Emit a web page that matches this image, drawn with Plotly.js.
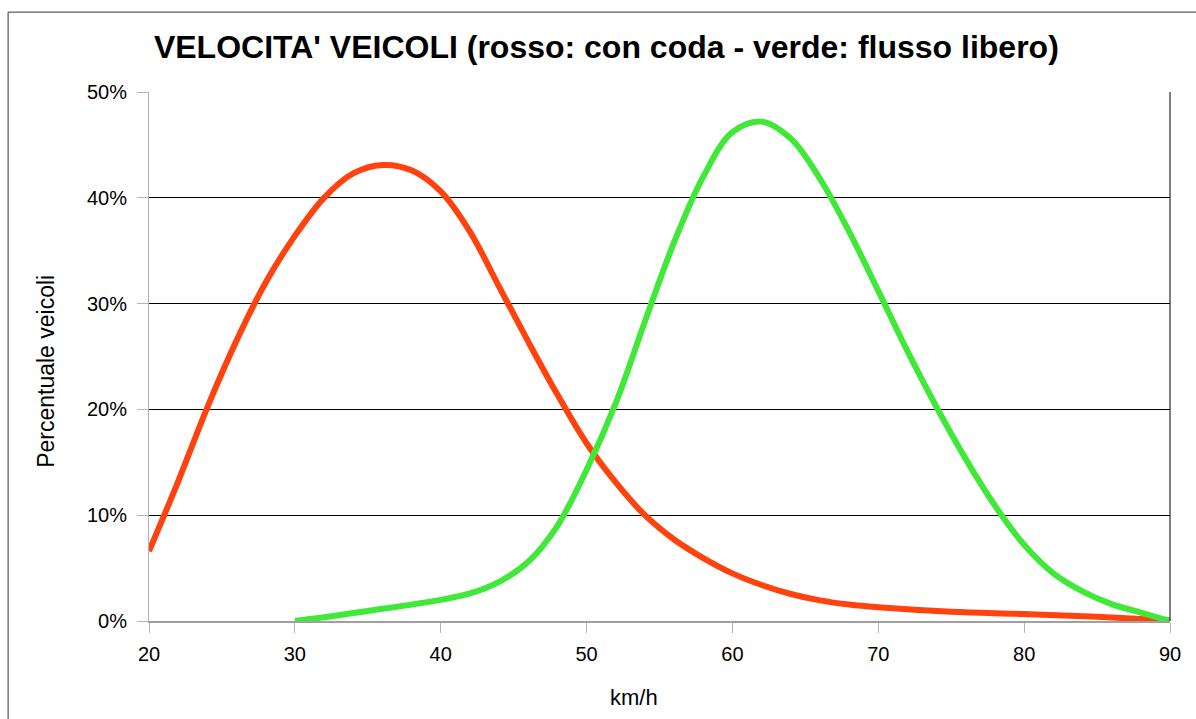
<!DOCTYPE html>
<html>
<head>
<meta charset="utf-8">
<script src="https://cdn.plot.ly/plotly-3.0.1.min.js"></script>
<style>
html,body{margin:0;padding:0;background:#fff;}
#chart{width:1196px;height:719px;}
</style>
</head>
<body>
<div id="chart"></div>
<script>
// Red series: with queue (con coda)
const redSpeed = [20,22,24,26,28,30,32,34,36,38,40,42,44,46,48,50,52,54,56,58,60,62,64,66,68,70,75,80,85,90];
const redPct   = [6.6,13.2,20.2,26.5,32.0,36.4,40.0,42.3,43.1,42.6,40.6,36.8,31.6,26.4,21.4,16.8,13.1,10.0,7.7,5.95,4.5,3.4,2.55,1.95,1.55,1.3,0.88,0.66,0.4,0.05];
// Green series: free flow (flusso libero)
const greenSpeed = [30,32,34,36,38,40,42,44,46,48,50,52,54,56,58,60,62,64,66,68,70,72,74,76,78,80,82,84,86,88,90];
const greenPct   = [0,0.35,0.75,1.15,1.55,2.0,2.6,3.7,5.6,9.0,14.3,20.6,28.3,35.8,42.0,46.2,47.2,45.6,41.8,36.8,31.2,25.5,20.2,15.3,10.9,7.2,4.5,2.8,1.6,0.8,0.0];

const yTickVals = [0,10,20,30,40,50];
const yTickText = ['0%','10%','20%','30%','40%','50%'];
const xTickVals = [20,30,40,50,60,70,80,90];

const titleText = "VELOCITA' VEICOLI (rosso: con coda - verde: flusso libero)";
const xTitle = 'km/h';
const yTitle = 'Percentuale veicoli';

const font = 'Liberation Sans, Arial, sans-serif';

const traces = [
  {x: redSpeed, y: redPct, type: 'scatter', mode: 'lines',
   line: {color: '#ff420e', width: 6, shape: 'spline', smoothing: 1}, hoverinfo: 'skip'},
  {x: greenSpeed, y: greenPct, type: 'scatter', mode: 'lines',
   line: {color: '#40e83a', width: 6, shape: 'spline', smoothing: 1}, hoverinfo: 'skip'}
];

const layout = {
  width: 1196, height: 719,
  margin: {l: 149, r: 26, t: 92, b: 98},
  paper_bgcolor: '#ffffff', plot_bgcolor: '#ffffff',
  showlegend: false,
  font: {family: font, color: '#000', size: 20},
  title: {text: titleText, font: {family: font, size: 32, color: '#000', weight: 'bold'},
          x: 0.507, xref: 'container', xanchor: 'center', y: 0.935, yref: 'container', yanchor: 'middle'},
  xaxis: {
    range: [20, 90], tickvals: xTickVals, ticktext: xTickVals.map(String),
    showgrid: false, zeroline: false,
    showline: true, linecolor: '#a0a0a0', linewidth: 2,
    ticks: 'outside', ticklen: 10, tickcolor: '#b3b3b3', tickwidth: 1,
    ticklabelstandoff: 4,
    tickfont: {size: 20, color: '#000'}
  },
  yaxis: {
    range: [0, 50], tickvals: yTickVals, ticktext: yTickText,
    showgrid: true, gridcolor: '#000000', gridwidth: 1, zeroline: false,
    showline: true, linecolor: '#b3b3b3', linewidth: 1,
    ticks: 'outside', ticklen: 11, tickcolor: '#b3b3b3', tickwidth: 1,
    ticklabelstandoff: 6,
    tickfont: {size: 20, color: '#000'}
  },
  annotations: [
    {text: xTitle, xref: 'paper', yref: 'paper', x: 0.475, y: -0.1437,
     xanchor: 'center', yanchor: 'middle', showarrow: false, font: {size: 22, color: '#000'}},
    {text: yTitle, xref: 'paper', yref: 'paper', x: -0.101, y: 0.4726, textangle: -90,
     xanchor: 'center', yanchor: 'middle', showarrow: false, font: {size: 23, color: '#000'}}
  ],
  shapes: [
    {type: 'line', xref: 'paper', yref: 'paper', x0: 1, x1: 1, y0: 0, y1: 1,
     line: {color: '#000', width: 1}, layer: 'above'},
    {type: 'line', xref: 'paper', yref: 'paper', x0: -0.138, x1: 1.1, y0: 1.151, y1: 1.151,
     line: {color: '#333', width: 1}},
    {type: 'line', xref: 'paper', yref: 'paper', x0: -0.138, x1: -0.138, y0: 1.151, y1: -0.3,
     line: {color: '#333', width: 1}}
  ]
};

Plotly.newPlot('chart', traces, layout, {displayModeBar: false, staticPlot: true});
</script>
</body>
</html>
